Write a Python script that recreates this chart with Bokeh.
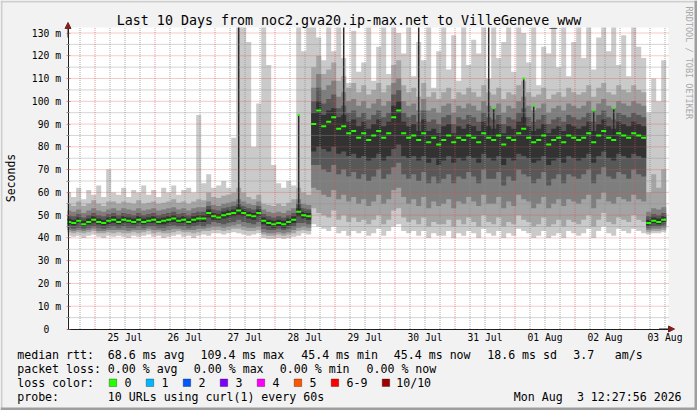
import math
import numpy as np
from bokeh.plotting import figure
from bokeh.models import (ColumnDataSource, Range1d, FixedTicker, Label, Arrow,
                          NormalHead, LinearAxis, BoxAnnotation)
from bokeh.embed import file_html
from bokeh.resources import INLINE

# ---------------- data ----------------
# time in days since 24 Jul 00:00; one value per 2-hour consolidation step
start_day = 0.52
step_day = 1.0 / 12.0

# median RTT (ms)
med = [47, 46.5, 47.5, 46, 47, 48, 47, 46.5, 47.5, 48,
       47, 48, 47.5, 47, 48, 47, 47.5, 48, 47, 47.5,
       48, 48.5, 47.5, 48, 47, 48, 48.5, 48.5, 51, 49.5,
       49, 50, 50.5, 51, 52, 51, 50, 49.5, 51, 47.5,
       46.5, 46, 46.5, 46, 47, 48, 51.5, 50, 49.5,
       90, 96, 89, 91, 93, 88, 89, 86, 87, 84,
       86, 83, 85, 87, 84, 86, 93, 96, 86, 84,
       85, 83, 86, 82, 84, 81, 83, 85, 82, 84,
       83, 85, 84, 82, 86, 84, 83, 85, 81, 84,
       83, 86, 88, 84, 82, 83, 85, 81, 83, 84,
       82, 85, 84, 83, 84, 86, 82, 85, 87, 84,
       83, 86, 85, 84, 86, 85, 84,
       46.5, 47.5, 47, 48]

# sorted ping values per step (p1 lowest ... p10 highest), ms
p1 = [41, 40.5, 41, 40, 41, 41.5, 40.5, 40, 41, 40.5,
      41, 40.5, 40, 41, 40.5, 41, 41.5, 40.5, 41, 40,
      40.5, 41, 41.5, 40.5, 41, 40, 41, 41.5, 41, 42,
      42, 41.5, 42, 42.5, 42, 41.5, 41, 41.5, 42, 40,
      39.5, 39.5, 40, 39.5, 40, 40.5, 41, 42, 41.5,
      46, 45, 44, 43, 45, 42, 43, 41, 43, 42,
      43, 41, 42, 44, 41, 43, 45, 46, 43, 42,
      43, 41, 43, 40, 42, 41, 41, 43, 40, 42,
      41, 43, 42, 40, 44, 42, 41, 43, 40, 42,
      41, 44, 43, 42, 40, 41, 43, 40, 41, 42,
      40, 43, 42, 41, 42, 44, 40, 43, 45, 42,
      41, 44, 43, 42, 44, 43, 42,
      41.5, 42, 42, 42.5]
p2 = [42.5, 42, 42.5, 42, 42.5, 43, 42, 42, 42.5, 42,
      42.5, 42, 42, 42.5, 42, 42.5, 43, 42, 42.5, 42,
      42, 42.5, 43, 42.5, 42.5, 42, 42.5, 43, 43, 43.5,
      43.5, 43, 43.5, 44, 44, 43.5, 43, 43, 43.5, 41.5,
      41, 41, 41.5, 41, 41.5, 42, 43, 43.5, 43,
      53, 51, 50, 49, 52, 48, 50, 47, 49, 47,
      48, 46, 48, 50, 46, 48, 52, 53, 49, 47,
      48, 46, 49, 45, 47, 46, 46, 48, 45, 48,
      46, 49, 47, 45, 50, 47, 46, 49, 45, 47,
      46, 50, 48, 47, 45, 46, 49, 45, 46, 48,
      45, 48, 47, 46, 48, 50, 45, 48, 51, 47,
      46, 49, 48, 47, 50, 48, 47,
      42.5, 43, 43, 43.5]
p3 = [43.5, 43, 43.5, 43, 43.5, 44, 43, 43, 43.5, 43.5,
      43.5, 43.5, 43, 43.5, 43.5, 43.5, 44, 43.5, 43.5, 43,
      43.5, 44, 44, 43.5, 43.5, 43.5, 44, 44, 44.5, 45,
      45, 44.5, 45, 45.5, 46, 45, 44.5, 44.5, 45, 42.5,
      42, 42, 42.5, 42, 42.5, 43.5, 44.5, 45, 44.5,
      62, 61, 59, 58, 61, 57, 59, 56, 58, 55,
      57, 54, 56, 59, 55, 57, 61, 62, 58, 55,
      57, 54, 58, 53, 56, 54, 55, 57, 53, 56,
      55, 58, 56, 54, 59, 55, 55, 58, 53, 56,
      54, 59, 57, 56, 53, 55, 58, 53, 55, 57,
      54, 57, 56, 55, 57, 59, 53, 57, 60, 56,
      55, 58, 57, 56, 59, 57, 56,
      43.5, 44, 44, 44.5]
p4 = [44.5, 44, 44.5, 44, 44.5, 45, 44.5, 44, 44.5, 45,
      44.5, 45, 44.5, 44.5, 45, 44.5, 45, 45, 44.5, 44.5,
      45, 45.5, 45, 45, 44.5, 45, 45.5, 45, 46, 47,
      46.5, 46, 46.5, 47, 48, 47, 46.5, 46, 47, 44,
      43.5, 43.5, 44, 43.5, 44, 45, 46.5, 46.5, 46,
      72, 72, 70, 69, 72, 68, 70, 67, 69, 66,
      68, 65, 67, 70, 66, 68, 71, 73, 68, 66,
      68, 65, 69, 64, 67, 64, 66, 68, 64, 67,
      66, 69, 67, 64, 70, 66, 66, 69, 63, 67,
      65, 70, 68, 67, 64, 66, 69, 63, 66, 68,
      64, 68, 67, 66, 68, 70, 64, 68, 71, 67,
      66, 69, 68, 66, 70, 68, 67,
      44.5, 45, 45, 45.5]
p5 = [46, 45.5, 46.5, 45, 46, 46.5, 46, 45.5, 46, 46.5,
      46, 46.5, 46.5, 46, 46.5, 46, 46.5, 46.5, 46, 46,
      46.5, 47, 46.5, 46.5, 46, 46.5, 47, 47, 49, 48,
      48, 48.5, 49, 49.5, 50, 49.5, 48.5, 48, 49.5, 46,
      45, 44.5, 45, 44.5, 45.5, 46.5, 49.5, 48.5, 48,
      78, 80, 79, 78, 80, 77, 78, 76, 77, 75,
      76, 74, 75, 77, 74, 76, 79, 81, 76, 75,
      76, 74, 76, 73, 75, 72, 74, 76, 73, 75,
      74, 76, 75, 73, 77, 75, 74, 76, 72, 75,
      74, 77, 76, 75, 73, 74, 76, 72, 74, 75,
      73, 76, 75, 74, 75, 77, 73, 76, 78, 75,
      74, 77, 76, 75, 77, 76, 75,
      45.5, 46.5, 46, 47]
p6 = [48.5, 48, 49, 47.5, 48.5, 49.5, 48.5, 48, 49, 49.5,
      48.5, 49.5, 49, 48.5, 49.5, 48.5, 49, 49.5, 48.5, 49,
      49.5, 50, 49, 49.5, 48.5, 49.5, 50, 50, 52.5, 51,
      50.5, 51.5, 52, 52.5, 53.5, 52.5, 51.5, 51, 52.5, 49,
      48, 47.5, 48, 47.5, 48.5, 49.5, 53, 51.5, 51,
      95, 100, 94, 96, 97, 93, 94, 91, 92, 89,
      91, 88, 90, 92, 89, 91, 98, 100, 91, 89,
      90, 87, 92, 87, 88, 86, 89, 90, 86, 89,
      88, 90, 89, 87, 91, 89, 88, 90, 86, 89,
      88, 91, 93, 89, 87, 88, 90, 86, 88, 89,
      87, 90, 89, 88, 89, 91, 87, 90, 92, 89,
      88, 91, 90, 89, 91, 90, 89,
      48, 49, 48.5, 49.5]
p7 = [50, 49.5, 50.5, 49, 50, 51, 50, 49.5, 50.5, 51,
      50, 51, 50.5, 50, 51, 50, 50.5, 51, 50, 50.5,
      51, 51.5, 50.5, 51, 50, 51, 51.5, 51.5, 54, 52.5,
      52, 53, 53.5, 54, 55, 54, 53, 52.5, 54, 50.5,
      49.5, 49, 49.5, 49, 50, 51, 55, 53, 52.5,
      100, 106, 99, 101, 103, 97, 98, 95, 96, 93,
      95, 92, 94, 96, 93, 95, 103, 105, 95, 93,
      94, 91, 96, 91, 92, 90, 93, 94, 90, 93,
      92, 94, 93, 91, 95, 93, 92, 94, 90, 93,
      92, 95, 97, 93, 91, 92, 94, 90, 92, 93,
      91, 94, 93, 92, 93, 95, 91, 94, 96, 93,
      92, 95, 94, 93, 95, 94, 93,
      49.5, 50.5, 50, 51]
p8 = [52, 51.5, 52.5, 51, 52, 53, 52, 51.5, 52.5, 53,
      52, 53, 52.5, 52, 53, 52, 52.5, 53, 52, 52.5,
      53, 53.5, 52.5, 53, 52, 53, 53.5, 53.5, 56, 54.5,
      54, 55, 55.5, 56, 57, 56, 55, 54.5, 56, 52.5,
      51.5, 51, 51.5, 51, 52, 53, 57, 55, 54.5,
      106, 112, 105, 107, 109, 102, 104, 100, 101, 98,
      100, 97, 99, 101, 98, 100, 108, 110, 100, 98,
      99, 96, 101, 96, 97, 95, 98, 99, 95, 98,
      97, 99, 98, 96, 100, 98, 97, 99, 95, 98,
      97, 100, 102, 98, 96, 97, 99, 95, 97, 98,
      96, 99, 98, 97, 98, 100, 96, 99, 101, 98,
      97, 100, 99, 98, 100, 99, 98,
      51.5, 53, 52.5, 53.5]
p9 = [55, 54, 56, 54, 55, 56.5, 55, 54, 56, 56,
      55, 56, 55.5, 55, 56.5, 55, 55.5, 56, 55, 55.5,
      56, 57, 55.5, 56, 55, 56, 57, 56.5, 60, 58,
      57.5, 58.5, 59, 60, 62, 60, 58, 57, 59, 55,
      54.5, 54, 55, 54, 55.5, 57, 62, 60, 59,
      115, 120, 112, 114, 117, 109, 111, 106, 108, 104,
      107, 103, 105, 108, 104, 107, 116, 118, 107, 104,
      106, 102, 108, 102, 104, 101, 104, 106, 101, 104,
      103, 106, 104, 102, 107, 104, 103, 106, 101, 104,
      103, 107, 109, 104, 102, 103, 106, 101, 103, 104,
      102, 106, 104, 103, 104, 107, 102, 106, 108, 104,
      103, 107, 105, 104, 107, 105, 104,
      60, 68, 62, 70]
p10 = [60, 58, 62, 57, 61, 59, 63, 58, 70, 60,
       59, 62, 58, 61, 60, 63, 59, 61, 58, 62,
       60, 63, 59, 61, 62, 60, 94, 64, 68, 62,
       63, 65, 62, 84, 135, 135, 126, 80, 99, 135,
       116, 72, 64, 62, 65, 63, 135, 122, 135,
       135, 128, 118, 135, 122, 135, 119, 108, 131, 113,
       117, 135, 109, 124, 135, 112, 135, 130, 121, 135,
       111, 126, 118, 135, 106, 122, 135, 114, 129, 109,
       135, 116, 127, 121, 135, 110, 135, 119, 126, 135,
       113, 135, 130, 117, 135, 107, 124, 121, 135, 115,
       135, 111, 126, 135, 119, 135, 114, 128, 135, 122,
       135, 116, 129, 111, 135, 124, 119,
       95, 110, 100, 118]

# single-step dark spikes (step index, top value in ms)
spike_step = [34, 46, 55, 70, 84, 85, 91, 93, 105, 109]
spike_top = [135, 94, 135, 135, 135, 97, 110, 98, 96, 97]

# axis ticks
y_ticks = [0, 10, 20, 30, 40, 50, 60, 70, 80, 90, 100, 110, 120, 130]
y_tick_labels = ["0\u00a0\u00a0", "10 m", "20 m", "30 m", "40 m", "50 m", "60 m",
                 "70 m", "80 m", "90 m", "100 m", "110 m", "120 m", "130 m"]
y_minor = [5, 15, 25, 35, 45, 55, 65, 75, 85, 95, 105, 115, 125]
x_ticks = [1.5, 2.5, 3.5, 4.5, 5.5, 6.5, 7.5, 8.5, 9.5, 10.5]
x_tick_labels = ["25 Jul", "26 Jul", "27 Jul", "28 Jul", "29 Jul", "30 Jul",
                 "31 Jul", "01 Aug", "02 Aug", "03 Aug"]
midnights = [1, 2, 3, 4, 5, 6, 7, 8, 9, 10]
six_hours = [d + q for d in [0, 1, 2, 3, 4, 5, 6, 7, 8, 9, 10]
             for q in (0.25, 0.5, 0.75) if 0.55 < d + q < 10.55]

title_text = "Last 10 Days from noc2.gva20.ip-max.net to VilleGeneve_www"
row1_texts = ["median rtt:", "68.6 ms avg", "109.4 ms max", "45.4 ms min",
              "45.4 ms now", "18.6 ms sd", "3.7", "am/s"]
row2_texts = ["packet loss:", "0.00 % avg", "0.00 % max", "0.00 % min", "0.00 % now"]
row3_text = "loss color:"
row4_texts = ["probe:", "10 URLs using curl(1) every 60s", "Mon Aug", "3 12:27:56 2026"]
loss_labels = ["0", "1", "2", "3", "4", "5", "6-9", "10/10"]
loss_colors = ["#26ff00", "#00b8ff", "#0059ff", "#7e00ff", "#ff00ff",
               "#ff5500", "#ff0000", "#a10000"]

# ---------------- layout constants (pixels of the 697x410 canvas) ----------------
W, H = 697, 410
PX_PER_DAY = 60.0
DAY1_PX = 94.5            # 25 Jul 00:00
PX_PER_MS = 296.0 / 130.0
ZERO_PY = 328.5           # 0 ms
X_LO, X_HI = 1 + (67 - DAY1_PX) / PX_PER_DAY, 1 + (668 - DAY1_PX) / PX_PER_DAY
Y_TOP = (ZERO_PY - 27) / PX_PER_MS
AXIS_X = 0.55

n = len(med)
for arr in (p1, p2, p3, p4, p5, p6, p7, p8, p9, p10):
    assert len(arr) == n, len(arr)

edges = start_day + step_day * np.arange(n + 1)
edges_c = np.clip(edges, X_LO, X_HI)
left = edges_c[:-1]
right = edges_c[1:]


def ext(a):
    a = np.minimum(np.asarray(a, dtype=float), Y_TOP)
    return list(a) + [a[-1]]


src = ColumnDataSource(dict(x=edges_c, p1=ext(p1), p2=ext(p2), p3=ext(p3), p4=ext(p4),
                            p5=ext(p5), p6=ext(p6), p7=ext(p7), p8=ext(p8),
                            p9=ext(p9), p10=ext(p10)))

p = figure(width=W, height=H, output_backend="svg", toolbar_location=None,
           x_range=Range1d(1 - DAY1_PX / PX_PER_DAY, 1 + (W - DAY1_PX) / PX_PER_DAY),
           y_range=Range1d(-(H - ZERO_PY) / PX_PER_MS, ZERO_PY / PX_PER_MS),
           x_axis_location=None, y_axis_location=None, min_border=0)
p.title.visible = False
p.xgrid.visible = False
p.ygrid.visible = False
p.border_fill_color = "#f2f2f2"
p.background_fill_color = "#f2f2f2"
p.outline_line_color = None

# canvas shading and white plot area
p.add_layout(BoxAnnotation(left=X_LO, right=X_HI, bottom=0, top=Y_TOP,
                           fill_color="#ffffff", fill_alpha=1, line_color=None,
                           level="underlay"))
for l, r, b, t, c in [(0, W, H - 2, H, "#cfcfcf"), (0, 2, 0, H, "#cfcfcf"),
                      (W - 3, W, 0, H, "#9e9e9e"), (0, W, 0, 3, "#9e9e9e")]:
    p.add_layout(BoxAnnotation(left=l, right=r, bottom=b, top=t, left_units="screen",
                               right_units="screen", bottom_units="screen",
                               top_units="screen", fill_color=c, fill_alpha=1,
                               line_color=None, level="underlay"))

# smoke
smoke_colors = ["#cacaca", "#a4a4a4", "#7e7e7e", "#585858", "#323232"]
pairs = [("p1", "p10"), ("p2", "p9"), ("p3", "p8"), ("p4", "p7"), ("p5", "p6")]
for (lo, hi), c in zip(pairs, smoke_colors):
    p.varea_step(x="x", y1=lo, y2=hi, step_mode="after", source=src, fill_color=c)

# dark single-step spikes
sx = [start_day + (b + 0.5) * step_day for b in spike_step]
sbase = [med[b] for b in spike_step]
stop = [min(t, Y_TOP) for t in spike_top]
p.segment(x0=sx, y0=sbase, x1=sx, y1=stop, line_color="#2a2a2a", line_width=1.5)

# grid (drawn over the smoke, as rrdtool does)
MAJ, MIN_ = "#de4f4f", "#8f8f8f"
p.segment(x0=six_hours, y0=[0] * len(six_hours), x1=six_hours,
          y1=[Y_TOP] * len(six_hours), line_color=MIN_, line_alpha=0.75,
          line_dash="1 1", line_width=1)
p.segment(x0=[X_LO] * len(y_minor), y0=y_minor, x1=[X_HI] * len(y_minor), y1=y_minor,
          line_color=MIN_, line_alpha=0.75, line_dash="1 1", line_width=1)
p.segment(x0=midnights, y0=[0] * len(midnights), x1=midnights,
          y1=[Y_TOP] * len(midnights), line_color=MAJ, line_alpha=0.6,
          line_dash="1 1", line_width=1)
p.segment(x0=[X_LO] * (len(y_ticks) - 1), y0=y_ticks[1:], x1=[X_HI] * (len(y_ticks) - 1),
          y1=y_ticks[1:], line_color=MAJ, line_alpha=0.6, line_dash="1 1", line_width=1)

# median (loss colour 0 = green)
p.segment(x0=left, y0=med, x1=right, y1=med, line_color=loss_colors[0], line_width=2)
tip_x = [x for x, t in zip(sx, spike_top) if t < 130]
tip_y = [t for t in spike_top if t < 130]
p.segment(x0=[x - 0.02 for x in tip_x], y0=tip_y, x1=[x + 0.02 for x in tip_x],
          y1=tip_y, line_color=loss_colors[0], line_width=2)

# axes
FONT = "DejaVu Sans Mono"
yaxis = LinearAxis(fixed_location=AXIS_X, bounds=(0, Y_TOP),
                   ticker=FixedTicker(ticks=y_ticks, minor_ticks=y_minor))
yaxis.major_label_overrides = {t: s for t, s in zip(y_ticks, y_tick_labels)}
xaxis = LinearAxis(fixed_location=0, bounds=(X_LO, X_HI),
                   ticker=FixedTicker(ticks=x_ticks, minor_ticks=[]))
xaxis.major_label_overrides = {t: s for t, s in zip(x_ticks, x_tick_labels)}
for ax in (xaxis, yaxis):
    ax.axis_line_color = "#1f1f1f"
    ax.major_label_text_font = FONT
    ax.major_label_text_font_size = "9.7px"
    ax.major_label_text_color = "#000000"
yaxis.major_tick_out = 2
yaxis.major_tick_in = 2
yaxis.major_tick_line_color = MAJ
yaxis.major_tick_line_alpha = 0.6
yaxis.minor_tick_out = 2
yaxis.minor_tick_in = 1
yaxis.minor_tick_line_color = MIN_
yaxis.major_label_standoff = 5
xaxis.major_tick_line_color = None
xaxis.minor_tick_line_color = None
xaxis.major_tick_out = 0
xaxis.major_tick_in = 0
xaxis.major_label_standoff = 3
p.add_layout(yaxis, "left")
p.add_layout(xaxis, "below")

# axis arrows
p.add_layout(Arrow(end=NormalHead(size=6, fill_color="#801f1f", line_color="#801f1f"),
                   x_start=AXIS_X, y_start=128, x_end=AXIS_X,
                   y_end=(ZERO_PY - 22) / PX_PER_MS, line_color="#1f1f1f", line_width=1))
p.add_layout(Arrow(end=NormalHead(size=6, fill_color="#801f1f", line_color="#801f1f"),
                   x_start=10.4, y_start=0, x_end=1 + (674 - DAY1_PX) / PX_PER_DAY,
                   y_end=0, line_color="#1f1f1f", line_width=1))


def put(text, X, Y, size="11.6px", align="left", angle=0.0, color="#000000"):
    p.add_layout(Label(x=X, y=H - Y, x_units="screen", y_units="screen",
                       text=text, text_font=FONT, text_font_size=size,
                       text_align=align, text_baseline="middle", angle=angle,
                       text_color=color))


put(title_text, 348.5, 20, size="13.3px", align="center")
put("Seconds", 10.5, 177.5, size="11.5px", align="center", angle=math.pi / 2)
put("RRDTOOL / TOBI OETIKER", 688, 6, size="8.5px", align="left",
    angle=-math.pi / 2, color="#a8a8a8")

ROWS = [354, 368, 382, 396]
row1_x = [16.7, 107.3, 200, 300.7, 393.3, 486.7, 572.7, 614.3]
for t, x in zip(row1_texts, row1_x):
    put(t, x, ROWS[0])
row2_x = [16.7, 107.3, 193.3, 279.3, 366]
for t, x in zip(row2_texts, row2_x):
    put(t, x, ROWS[1])
put(row3_text, 16.7, ROWS[2])
row4_x = [16.7, 107.3, 513.3, 576.4]
for t, x in zip(row4_texts, row4_x):
    put(t, x, ROWS[3])

# loss colour swatches (legend row)
swatch_x = [108.7, 145.7, 182.7, 219.7, 256.7, 293.7, 330.7, 381.7]
for lab, col, bx in zip(loss_labels, loss_colors, swatch_x):
    p.add_layout(BoxAnnotation(left=bx, right=bx + 7.5, bottom=H - 386, top=H - 378.5,
                               left_units="screen", right_units="screen",
                               bottom_units="screen", top_units="screen",
                               fill_color=col, fill_alpha=1, line_color="#000000",
                               line_width=1))
    put(lab, bx + 15.3 if len(lab) < 5 else bx + 14, ROWS[2])

open("out.html", "w").write(file_html(p, INLINE))
